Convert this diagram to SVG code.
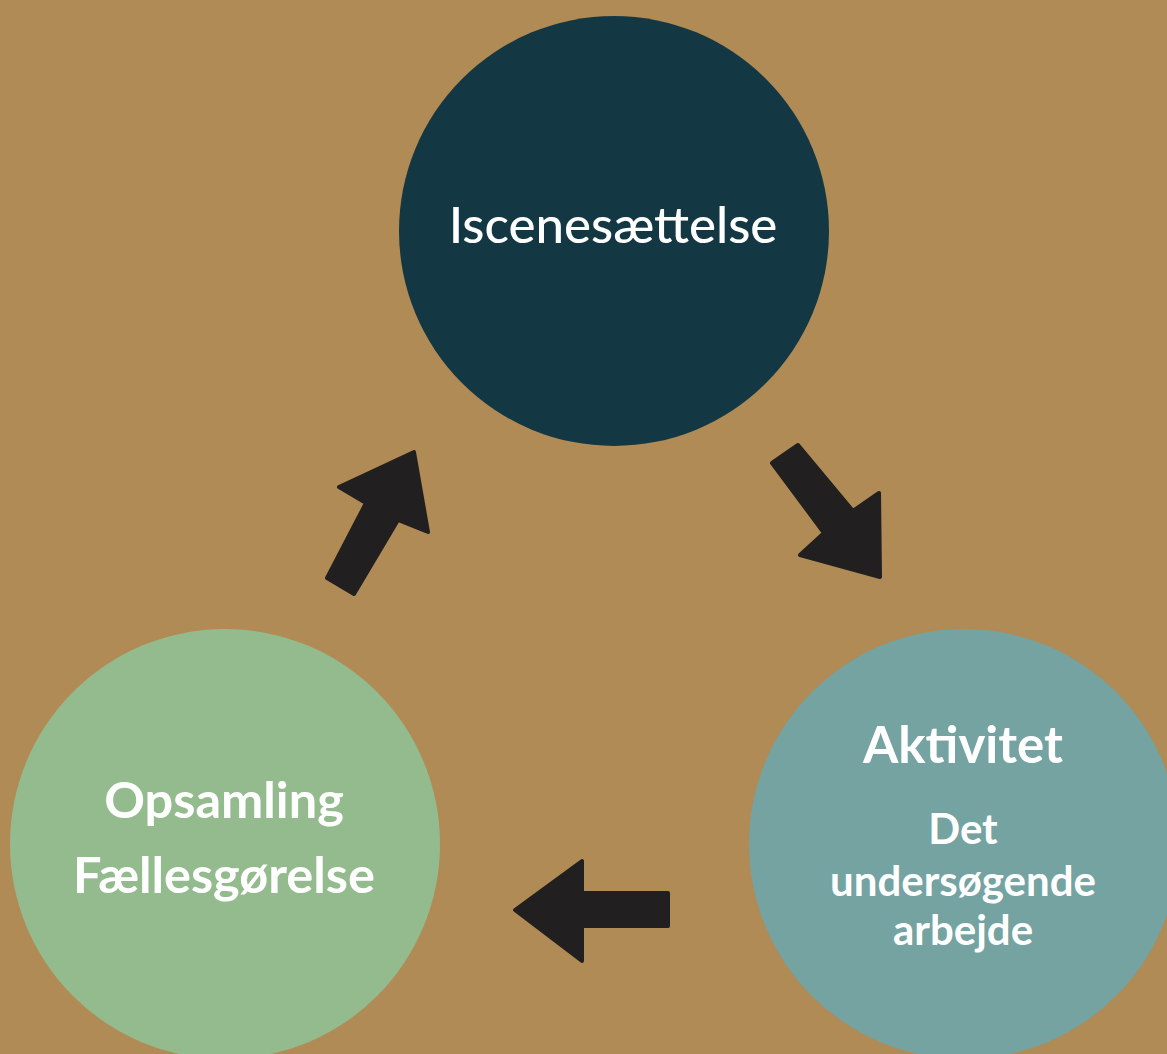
<svg xmlns="http://www.w3.org/2000/svg" width="1167" height="1054" viewBox="0 0 1167 1054">
<style>
.lbl{font-family:Lato,"Open Sans","Liberation Sans",sans-serif;fill:#ffffff;text-anchor:middle}
.arrow{fill:#221f20;stroke:#221f20;stroke-width:4;stroke-linejoin:round}
</style>
<rect width="1167" height="1054" fill="#b08b55"/>
<g id="node-iscenesaettelse">
<circle cx="614" cy="231" r="215" fill="#143843"/>
<text class="lbl" x="613" y="243" font-size="51" font-weight="500">Iscenesættelse</text>
</g>
<g id="node-aktivitet">
<circle cx="964" cy="844" r="215" fill="#74a3a2"/>
<text class="lbl" x="963" y="763" font-size="51" font-weight="700">Aktivitet</text>
<text class="lbl" x="963" y="844" font-size="42" font-weight="700">Det</text>
<text class="lbl" x="963" y="896" font-size="42" font-weight="700">undersøgende</text>
<text class="lbl" x="963" y="945" font-size="42" font-weight="700">arbejde</text>
</g>
<g id="node-opsamling">
<circle cx="225" cy="844" r="215" fill="#93bb8d"/>
<text class="lbl" x="224" y="818" font-size="50.5" font-weight="700">Opsamling</text>
<text class="lbl" x="224" y="893" font-size="50.5" font-weight="700">Fællesgørelse</text>
</g>
<g id="connectors">
<polygon class="arrow" points="414,452 428,532 398,520 354,594 327,578 366,503 339,487"/>
<polygon class="arrow" points="772,463 798,445 853,511 879,493 880,577 800,555 824,533"/>
<polygon class="arrow" points="515,910 582,861 582,893 668,893 668,926 582,926 582,961"/>
</g>
</svg>
